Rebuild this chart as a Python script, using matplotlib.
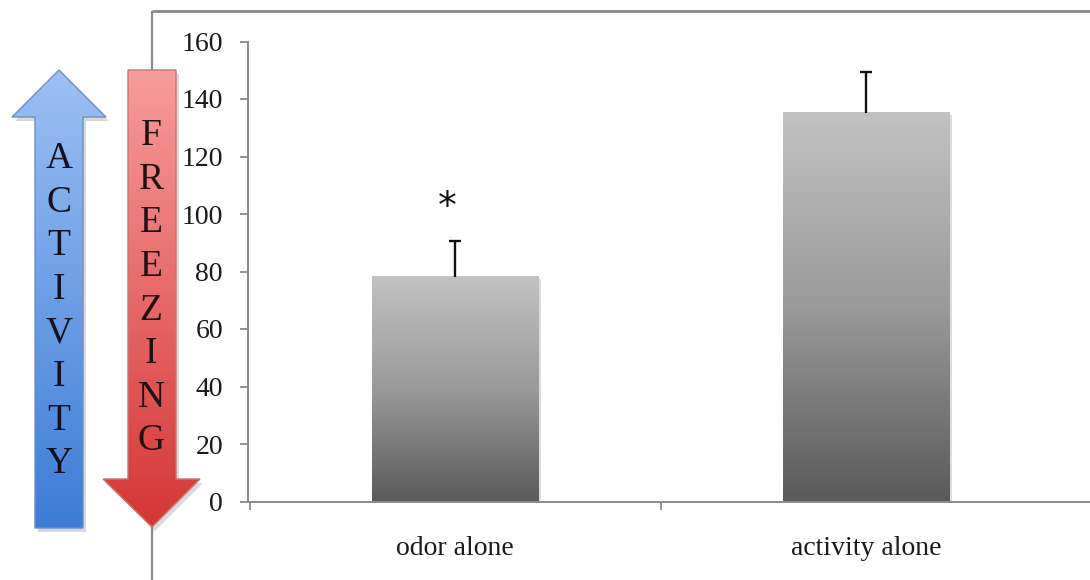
import numpy as np
import matplotlib
matplotlib.use("Agg")
import matplotlib.pyplot as plt
from matplotlib.patches import Polygon
from matplotlib.colors import LinearSegmentedColormap

# ---- data ----
categories = ["odor alone", "activity alone"]
values = [78, 135]
errors = [12.5, 14.5]
yticks = [0, 20, 40, 60, 80, 100, 120, 140, 160]
activity_letters = list("ACTIVITY")
freezing_letters = list("FREEZING")

plt.rcParams['font.family'] = ['Liberation Serif', 'DejaVu Serif']

W, H = 1090, 580
fig = plt.figure(figsize=(W / 100, H / 100), dpi=100)

# ---- main axes ----
ax = fig.add_axes([248 / W, 1 - 501.5 / H, (W - 248) / W, (501.5 - 41.5) / H])
xpos = np.arange(len(categories))
bar_w = 0.404
cap_half = 0.015
grey_cmap = LinearSegmentedColormap.from_list("g", ["#c2c2c2", "#9a9a9a", "#5a5a5a"])
grad = np.linspace(0, 1, 256).reshape(-1, 1)
for x, v, e in zip(xpos, values, errors):
    ax.add_patch(plt.Rectangle((x - bar_w / 2 + 0.006, -0.6), bar_w, v, color="#dcdcdc", zorder=1, lw=0))
    ax.imshow(grad, cmap=grey_cmap, origin="upper", aspect="auto",
              extent=(x - bar_w / 2, x + bar_w / 2, 0, v), zorder=2)
    ax.vlines(x, v, v + e, color="#111111", lw=1.7, zorder=3)
    ax.hlines(v + e, x - cap_half, x + cap_half, color="#111111", lw=1.7, zorder=3)
ax.text(xpos[0] - 0.02, 102, "*", ha="center", va="center", fontsize=27,
        family=["DejaVu Sans"], color="#111111")

ax.set_xlim(-0.504, 1.545)
ax.set_ylim(0, 160)
ax.set_yticks(yticks)
ax.set_yticklabels([str(t) for t in yticks], fontsize=20, color="#1a1a1a")
ax.set_xticks([-0.5, 0.5])
ax.set_xticklabels([])
ax.set_xticks(xpos, minor=True)
ax.set_xticklabels(categories, minor=True, fontsize=20, color="#1a1a1a")
ax.tick_params(axis="x", which="minor", length=0, pad=25)
ax.tick_params(axis="x", which="major", length=6, width=1.3, color="#8a8a8a", direction="out")
ax.tick_params(axis="y", length=6, width=1.3, color="#8a8a8a", direction="out", pad=12)
for s in ["top", "right"]:
    ax.spines[s].set_visible(False)
for s in ["left", "bottom"]:
    ax.spines[s].set_color("#8a8a8a")
    ax.spines[s].set_linewidth(1.4)

# ---- overlay (pixel coordinates) ----
ov = fig.add_axes([0, 0, 1, 1], facecolor="none")
ov.set_xlim(0, W)
ov.set_ylim(H, 0)
ov.axis("off")

ov.plot([152, W], [11, 11], color="#8a8a8a", lw=2, zorder=1, solid_capstyle="butt")
ov.plot([152, 152], [11, H], color="#8a8a8a", lw=1.6, zorder=1, solid_capstyle="butt")


def gradient_arrow(pts, c_top, c_bot, edge):
    pts = np.array(pts, dtype=float)
    shadow = Polygon(pts + np.array([3, 4]), closed=True, facecolor="#000000",
                     alpha=0.15, lw=0, zorder=2)
    ov.add_patch(shadow)
    poly = Polygon(pts, closed=True, facecolor="none", edgecolor=edge, lw=1.0, zorder=4)
    ov.add_patch(poly)
    cmap = LinearSegmentedColormap.from_list("a", [c_top, c_bot])
    x0, x1 = pts[:, 0].min(), pts[:, 0].max()
    y0, y1 = pts[:, 1].min(), pts[:, 1].max()
    im = ov.imshow(grad, cmap=cmap, origin="upper", aspect="auto",
                   extent=(x0, x1, y1, y0), zorder=3)
    clip = Polygon(pts, closed=True, transform=ov.transData)
    im.set_clip_path(clip)


blue_pts = [(59, 70), (106, 117), (83, 117), (83, 528), (35, 528), (35, 117), (12, 117)]
red_pts = [(128, 70), (176, 70), (176, 479), (200, 479), (152, 527), (103, 479), (128, 479)]
gradient_arrow(blue_pts, "#9cc0f4", "#3d7cd6", "#6a90c8")
gradient_arrow(red_pts, "#f89c9c", "#d53636", "#c87474")

ov.set_xlim(0, W)
ov.set_ylim(H, 0)

for i, ch in enumerate(activity_letters):
    ov.text(59, 159 + i * 43.6, ch, ha="center", va="center", fontsize=27,
            color="#111122", zorder=5)
for i, ch in enumerate(freezing_letters):
    ov.text(151, 136 + i * 43.6, ch, ha="center", va="center", fontsize=27,
            color="#221111", zorder=5)

fig.savefig("out.png", dpi=100)
